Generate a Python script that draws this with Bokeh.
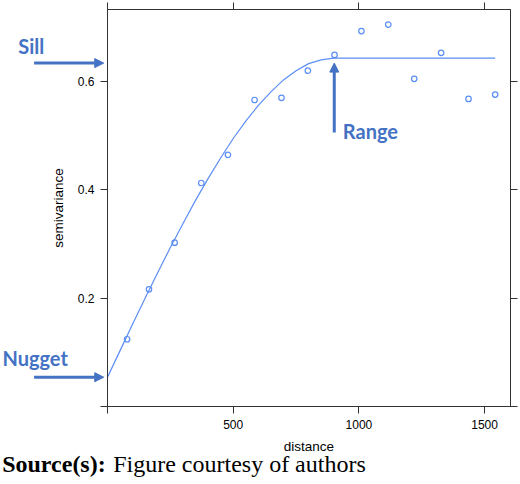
from bokeh.plotting import figure
from bokeh.models import Range1d, LinearAxis, FixedTicker, Label, Arrow, NormalHead, GridBox
from bokeh.embed import file_html
from bokeh.resources import INLINE

distance = [78, 165, 267, 373, 479, 585, 692, 797, 903, 1010, 1117, 1220, 1327, 1436, 1542]
semivariance = [0.124, 0.216, 0.302, 0.412, 0.464, 0.565, 0.569, 0.619, 0.648,
                0.692, 0.704, 0.604, 0.652, 0.567, 0.575]

# fitted model curve
fit_distance = [0, 50, 100, 150, 200, 250, 300, 350, 400, 450, 500, 550, 600, 650,
                700, 750, 800, 850, 900, 1542]
fit_semivariance = [0.054, 0.103, 0.152, 0.200, 0.247, 0.293, 0.337, 0.380, 0.420,
                    0.458, 0.494, 0.526, 0.555, 0.580, 0.602, 0.619, 0.632, 0.639,
                    0.642, 0.642]

# annotated model parameters
nugget = 0.054
sill = 0.642
model_range = 902

x_ticks = [0, 500, 1000, 1500]
y_ticks = [0, 0.2, 0.4, 0.6]

BLUE = "#4472C4"
PT = "#5b8ef5"
AX = "#333333"

# canvas geometry
W, H = 520, 484
FL, FR, FT, FB = 107, 510, 9, 406
X0, X1 = 0, 1603
Y0, Y1 = 0, 0.7318

p = figure(width=W, height=H, output_backend="svg", toolbar_location=None,
           x_range=Range1d(X0, X1), y_range=Range1d(Y0, Y1),
           min_border_left=FL, min_border_right=W - FR, min_border_top=FT,
           min_border_bottom=H - FB, x_axis_location=None, y_axis_location=None)
p.frame_align = False
p.grid.visible = False
p.outline_line_color = AX
p.outline_line_width = 1
p.background_fill_color = "white"
p.border_fill_color = "white"


def style(ax, ticks, show_labels, overrides=None):
    ax.ticker = FixedTicker(ticks=ticks)
    ax.major_tick_out = 7
    ax.major_tick_in = 0
    ax.minor_tick_line_color = None
    ax.major_tick_line_color = AX
    ax.axis_line_color = AX
    ax.major_label_text_font = "Liberation Sans"
    ax.axis_label_text_font = "Liberation Sans"
    ax.axis_label_text_font_style = "normal"
    ax.axis_label_text_font_size = "13.5px"
    ax.axis_label_text_color = "black"
    if show_labels:
        ax.major_label_text_color = "black"
        ax.major_label_text_font_size = "12px"
        ax.major_label_standoff = 6
        if overrides:
            ax.major_label_overrides = overrides
    else:
        ax.major_label_text_color = None
        ax.major_label_text_font_size = "1px"
        ax.major_label_standoff = 0


xb = LinearAxis(axis_label="distance")
style(xb, x_ticks, True, {0: ""})
xb.axis_label_standoff = 7
yl = LinearAxis(axis_label="semivariance")
style(yl, y_ticks, True, {0: ""})
yl.axis_label_standoff = 9
xt = LinearAxis()
style(xt, x_ticks, False)
yr = LinearAxis()
style(yr, y_ticks, False)
p.add_layout(xb, "below")
p.add_layout(yl, "left")
p.add_layout(xt, "above")
p.add_layout(yr, "right")

p.line(fit_distance, fit_semivariance, line_color=PT, line_width=1.2)
p.scatter(distance, semivariance, size=5.5, fill_color=None, line_color=PT, line_width=1.2)

# transparent overlay covering the whole canvas, same data mapping, for annotations
kx = (FR - FL) / (X1 - X0)
ky = (FB - FT) / (Y1 - Y0)
ov = figure(width=W, height=H, output_backend="svg", toolbar_location=None,
            x_range=Range1d(X0 - FL / kx, X1 + (W - FR) / kx),
            y_range=Range1d(Y0 - (H - FB) / ky, Y1 + FT / ky),
            min_border=0, min_border_left=0, min_border_right=0, min_border_top=0,
            min_border_bottom=0, x_axis_location=None, y_axis_location=None)
ov.frame_align = False
ov.grid.visible = False
ov.outline_line_color = None
ov.background_fill_color = None
ov.border_fill_color = None


def arrow(x0, y0, x1, y1):
    ov.add_layout(Arrow(x_start=x0, y_start=y0, x_end=x1, y_end=y1,
                        line_color=BLUE, line_width=3,
                        end=NormalHead(size=9, fill_color=BLUE, line_color=BLUE, line_width=1)))


def lab(x, y, text):
    ov.add_layout(Label(x=x, y=y, text=text, text_font="Lato", text_font_style="bold",
                        text_font_size="20px", text_color=BLUE, text_align="left",
                        text_baseline="alphabetic"))


lab(-355, 0.6636, "Sill")
arrow(-292, sill - 0.009, -15, sill - 0.009)
lab(-418, 0.0885, "Nugget")
arrow(-292, nugget, -15, nugget)
arrow(model_range, 0.505, model_range, sill - 0.009)
lab(model_range + 34, 0.5083, "Range")

ov.add_layout(Label(x=-419, y=-0.1058, text="Source(s):", text_font="Liberation Serif",
                    text_font_style="bold", text_font_size="24px", text_color="black",
                    text_baseline="alphabetic"))
ov.add_layout(Label(x=-419, y=-0.1058, x_offset=111, text="Figure courtesy of authors",
                    text_font="Liberation Serif", text_font_size="24px",
                    text_color="black", text_baseline="alphabetic"))

layout = GridBox(children=[(p, 0, 0), (ov, 0, 0)])
open("out.html", "w").write(file_html(layout, INLINE))
